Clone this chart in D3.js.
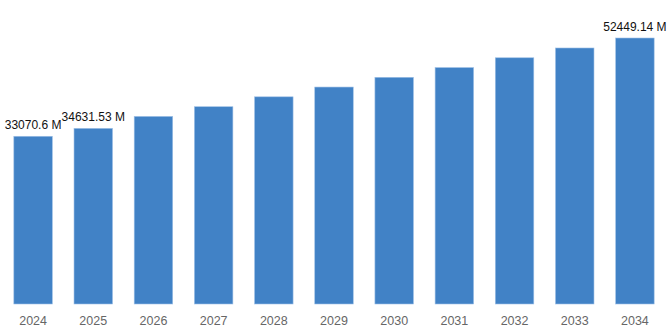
<!DOCTYPE html>
<html>
<head>
<meta charset="utf-8">
<script src="https://cdn.jsdelivr.net/npm/d3@7"></script>
<style>
  html, body { margin: 0; padding: 0; background: #fff; }
  svg { display: block; }
</style>
</head>
<body>
<svg id="chart" width="668" height="334"></svg>
<script>
// Market size by year (USD million)
const years = ["2024", "2025", "2026", "2027", "2028", "2029", "2030", "2031", "2032", "2033", "2034"];
const values = [33070.6, 34631.53, 36990, 38900, 40850, 42780, 44700, 46620, 48550, 50480, 52449.14];
// Only these years carry a value label above the bar
const labelledYears = ["2024", "2025", "2034"];

const width = 668, height = 334;
const baseY = 304, topY = 38;

const svg = d3.select("#chart");

const x = d3.scaleBand()
  .domain(years)
  .range([3, 665])
  .paddingInner(0.36)
  .paddingOuter(0.18);

const y = d3.scaleLinear()
  .domain([0, d3.max(values)])
  .range([baseY, topY]);

const data = years.map((yr, i) => ({ year: yr, value: values[i] }));

svg.append("g")
  .selectAll("rect")
  .data(data)
  .join("rect")
  .attr("x", d => x(d.year))
  .attr("y", d => y(d.value))
  .attr("width", x.bandwidth())
  .attr("height", d => baseY - y(d.value))
  .attr("fill", "#4182c6")
  .attr("stroke", "#9fc0e6")
  .attr("stroke-width", 0.6);

// Value labels
svg.append("g")
  .selectAll("text")
  .data(data.filter(d => labelledYears.includes(d.year)))
  .join("text")
  .attr("x", d => x(d.year) + x.bandwidth() / 2)
  .attr("y", d => y(d.value) - 7.5)
  .attr("text-anchor", "middle")
  .attr("font-family", "Liberation Sans, Arial, Helvetica, sans-serif")
  .attr("font-size", 12)
  .attr("fill", "#111")
  .text(d => d.value + " M");

// Category axis (labels only)
const axis = d3.axisBottom(x).tickSize(0).tickPadding(0);
const gx = svg.append("g")
  .attr("transform", `translate(0, ${baseY})`)
  .call(axis);
gx.select(".domain").remove();
gx.selectAll("text")
  .attr("dy", null)
  .attr("y", 21)
  .attr("font-family", "Liberation Sans, Arial, Helvetica, sans-serif")
  .attr("font-size", 12.5)
  .attr("fill", "#666");
</script>
</body>
</html>
